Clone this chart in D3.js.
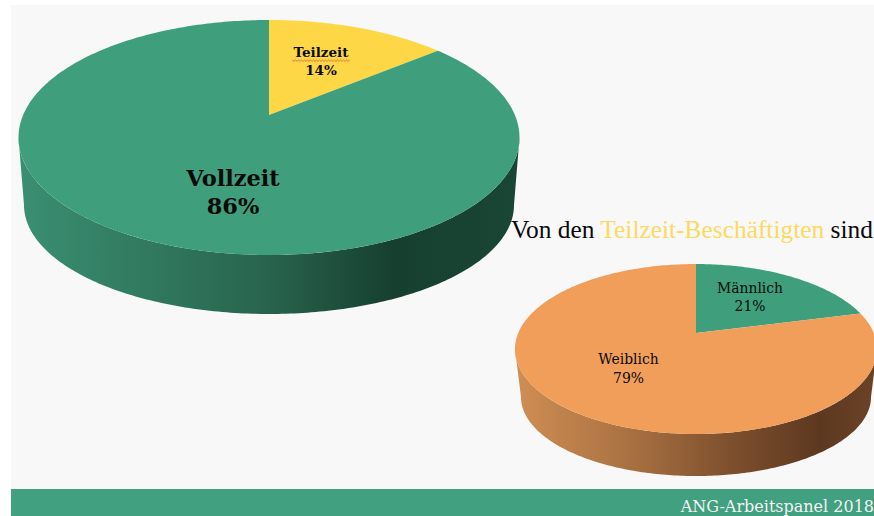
<!DOCTYPE html>
<html><head><meta charset="utf-8">
<script src="https://cdn.jsdelivr.net/npm/d3@7"></script>
<style>
html,body{margin:0;padding:0;background:#fff;overflow:hidden}
svg{display:block}
text{font-family:"DejaVu Serif","Liberation Serif",serif}
text.title{font-family:"Liberation Serif","DejaVu Serif",serif}
</style></head><body>
<svg id="c" width="874" height="516"></svg>
<script>
const mainCategories = ["Teilzeit", "Vollzeit"];
const mainValues = [14, 86];
const subCategories = ["Männlich", "Weiblich"];
const subValues = [21, 79];
const titleParts = ["Von den ", "Teilzeit-Beschäftigten", " sind"];
const footerText = "ANG-Arbeitspanel 2018";

const green = "#3f9f7d", yellow = "#fdd745", orange = "#f19e5b";
const svg = d3.select("#c");
const defs = svg.append("defs");

function gradient(id, stops){
  const g = defs.append("linearGradient").attr("id", id);
  stops.forEach(([o,c]) => g.append("stop").attr("offset", o).attr("stop-color", c));
}
gradient("gMain", [[0,"#3a8f72"],[.25,"#317a60"],[.5,"#28634d"],[.75,"#163f2f"],[1,"#1a4635"]]);
gradient("gSub", [[0,"#d08e54"],[.3,"#ab7343"],[.6,"#7d4f2d"],[.84,"#5d3820"],[1,"#6b4327"]]);

svg.append("rect").attr("x",11).attr("y",5).attr("width",863).attr("height",511).attr("fill","#f8f8f8");
svg.append("rect").attr("x",11).attr("y",489).attr("width",863).attr("height",27).attr("fill","#40a080");

function drawPie(o){
  const k = (o.cy - o.apexY) / o.ry;
  const a = o.rx * Math.sqrt(1 - k*k);
  // perspective projection of a disc: theta clockwise from 12 o'clock
  const project = t => {
    const x = Math.sin(t), y = -Math.cos(t), w = 1 - k*y;
    return [o.cx + a*x/w, o.cy + (o.apexY - o.cy + o.ry*y)/w];
  };
  const line = d3.line();
  // side wall
  const lowTop = d3.range(0, 181).map(i => [o.cx + o.rx*Math.cos(i*Math.PI/180), o.cy + o.ry*Math.sin(i*Math.PI/180)]);
  const lowBot = d3.range(0, 181).map(i => [o.cx + o.brx*Math.cos(i*Math.PI/180), o.bcy + o.bry*Math.sin(i*Math.PI/180)]);
  svg.append("path").attr("d", line(lowTop.concat(lowBot.reverse()))+"Z").attr("fill", `url(#${o.grad})`);
  // slices
  const arcs = d3.pie().sort(null).value(d=>d)(o.values);
  arcs.forEach((s,i) => {
    const n = Math.max(2, Math.ceil((s.endAngle-s.startAngle)*60));
    const pts = d3.range(n+1).map(j => project(s.startAngle + (s.endAngle-s.startAngle)*j/n));
    pts.unshift([o.cx, o.apexY]);
    svg.append("path").attr("d", line(pts)+"Z").attr("fill", o.colors[i]);
  });
  o.labels.forEach((l,i) => {
    const t = svg.append("text").attr("text-anchor","middle").attr("fill","#0a0a0a")
      .attr("font-size", l.size).attr("font-weight", l.weight);
    t.append("tspan").attr("x", l.x).attr("y", l.y).text(o.names[i]);
    t.append("tspan").attr("x", l.x).attr("y", l.y + l.lh).text(o.values[i] + "%");
    if (l.wavy) {
      const w = l.wavy, n = Math.round(w/1.5);
      svg.append("path").attr("fill","none").attr("stroke","#e8604a").attr("stroke-width",0.9)
        .attr("d", d3.line().curve(d3.curveMonotoneX)(d3.range(n+1).map(j => [l.x - w/2 + j*1.5, l.y + 3 + (j%2)*1.4])));
    }
  });
}

drawPie({cx:269, cy:137.5, rx:250.5, ry:117.5, apexY:115, brx:245, bcy:205, bry:109, grad:"gMain",
  values:mainValues, names:mainCategories, colors:[yellow,green],
  labels:[{x:321,y:57,lh:18,size:13.5,weight:700,wavy:57},{x:233,y:186,lh:28,size:22.5,weight:700}]});
drawPie({cx:696, cy:349, rx:181, ry:85, apexY:333, brx:175, bcy:397, bry:79, grad:"gSub",
  values:subValues, names:subCategories, colors:[green,orange],
  labels:[{x:750,y:293,lh:18,size:13.9,weight:400},{x:628.5,y:364,lh:19,size:13.9,weight:400}]});

const title = svg.append("text").attr("class","title").attr("x",511).attr("y",238).attr("font-size",25.4).attr("fill","#0a0a0a");
title.selectAll("tspan").data(titleParts).join("tspan").text(d=>d).style("white-space","pre")
  .attr("fill",(d,i)=>i===1?"#fdd962":"#0a0a0a");
svg.append("text").attr("x",874).attr("y",512).attr("text-anchor","end").attr("font-size",16).attr("fill","#f4f4f4").text(footerText);
</script></body></html>
